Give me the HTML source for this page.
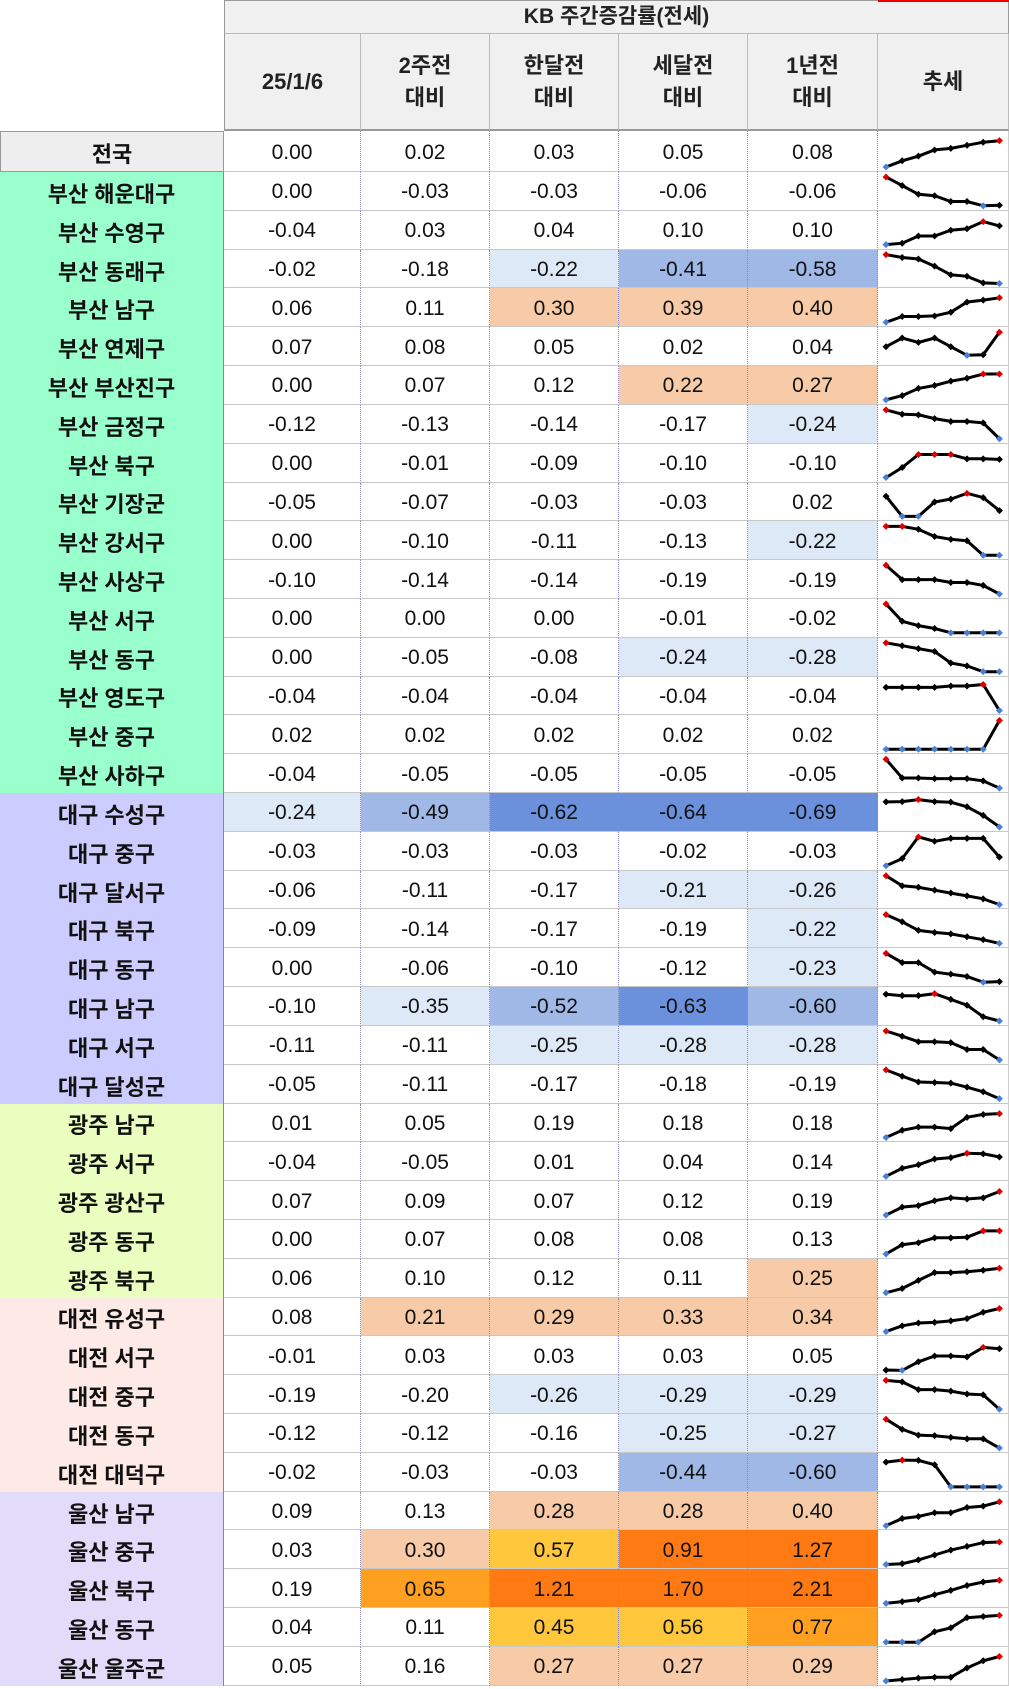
<!DOCTYPE html>
<html><head><meta charset="utf-8"><style>
*{margin:0;padding:0;box-sizing:border-box}
body{width:1009px;height:1689px;background:#fff;font-family:"Liberation Sans","Noto Sans CJK KR",sans-serif;position:relative;overflow:hidden}
.h1{position:absolute;left:224px;top:0;width:785px;height:34px;background:#f0f0f0;border:1px solid #999;border-bottom:1px solid #bbb;text-align:center;font-size:21px;line-height:32px;font-weight:bold;color:#222}
.red{position:absolute;left:878px;top:0;width:131px;height:2px;background:#e00}
.h2{position:absolute;left:224px;top:34px;height:97px;display:flex}
.h2 div{background:#f0f0f0;border-right:1px solid #bbb;border-bottom:2px solid #999;display:flex;align-items:center;justify-content:center;text-align:center;font-size:22px;font-weight:bold;line-height:32px;color:#222}
.h2 div:first-child{border-left:1px solid #999}
#rows{position:absolute;left:0;top:131px;width:1009px}
.r{display:flex;height:38.82px}
.r.t{height:41px}
.r span{display:flex;align-items:center;justify-content:center;padding-top:3px;font-size:21px;color:#111;border-bottom:1px solid #c8c8c8;border-right:1px dotted #8a8ac8;height:100%}
.r span:nth-child(1){width:224px;font-size:22px;font-weight:bold;border-right:1px solid #888;border-bottom:none}
.r span:nth-child(2){width:137px}
.r span:nth-child(3),.r span:nth-child(4),.r span:nth-child(5){width:129px}
.r span:nth-child(6){width:130px}
.r span:nth-child(7){width:131px;border-right:1px solid #ccc}
.t span{background:#fff}
.t span:nth-child(1){background:#eee;border:1px solid #999}
.g span:nth-child(1){background:#99ffcc}
.d span:nth-child(1){background:#ccccff}
.k span:nth-child(1){background:#eaffbf}
.j span:nth-child(1){background:#fde9e5}
.u span:nth-child(1){background:#e2dcfa}
span.a{background:#dde9f6}span.b{background:#9fb8e6}span.c{background:#6b90dc}
span.p{background:#f8cba8}span.y{background:#ffc83c}span.o{background:#ff7a12}span.m{background:#ffa020}
svg{position:absolute;left:878px;top:0}
</style></head><body>
<div class="h1">KB 주간증감률(전세)</div><div class="red"></div>
<div class="h2"><div style="width:137px">25/1/6</div><div style="width:129px">2주전<br>대비</div><div style="width:129px">한달전<br>대비</div><div style="width:129px">세달전<br>대비</div><div style="width:130px">1년전<br>대비</div><div style="width:131px">추세</div></div>
<div id="rows">
<div class="r t"><span>전국</span><span>0.00</span><span>0.02</span><span>0.03</span><span>0.05</span><span>0.08</span><span></span></div>
<div class="r g"><span>부산 해운대구</span><span>0.00</span><span>-0.03</span><span>-0.03</span><span>-0.06</span><span>-0.06</span><span></span></div>
<div class="r g"><span>부산 수영구</span><span>-0.04</span><span>0.03</span><span>0.04</span><span>0.10</span><span>0.10</span><span></span></div>
<div class="r g"><span>부산 동래구</span><span>-0.02</span><span>-0.18</span><span class="a">-0.22</span><span class="b">-0.41</span><span class="b">-0.58</span><span></span></div>
<div class="r g"><span>부산 남구</span><span>0.06</span><span>0.11</span><span class="p">0.30</span><span class="p">0.39</span><span class="p">0.40</span><span></span></div>
<div class="r g"><span>부산 연제구</span><span>0.07</span><span>0.08</span><span>0.05</span><span>0.02</span><span>0.04</span><span></span></div>
<div class="r g"><span>부산 부산진구</span><span>0.00</span><span>0.07</span><span>0.12</span><span class="p">0.22</span><span class="p">0.27</span><span></span></div>
<div class="r g"><span>부산 금정구</span><span>-0.12</span><span>-0.13</span><span>-0.14</span><span>-0.17</span><span class="a">-0.24</span><span></span></div>
<div class="r g"><span>부산 북구</span><span>0.00</span><span>-0.01</span><span>-0.09</span><span>-0.10</span><span>-0.10</span><span></span></div>
<div class="r g"><span>부산 기장군</span><span>-0.05</span><span>-0.07</span><span>-0.03</span><span>-0.03</span><span>0.02</span><span></span></div>
<div class="r g"><span>부산 강서구</span><span>0.00</span><span>-0.10</span><span>-0.11</span><span>-0.13</span><span class="a">-0.22</span><span></span></div>
<div class="r g"><span>부산 사상구</span><span>-0.10</span><span>-0.14</span><span>-0.14</span><span>-0.19</span><span>-0.19</span><span></span></div>
<div class="r g"><span>부산 서구</span><span>0.00</span><span>0.00</span><span>0.00</span><span>-0.01</span><span>-0.02</span><span></span></div>
<div class="r g"><span>부산 동구</span><span>0.00</span><span>-0.05</span><span>-0.08</span><span class="a">-0.24</span><span class="a">-0.28</span><span></span></div>
<div class="r g"><span>부산 영도구</span><span>-0.04</span><span>-0.04</span><span>-0.04</span><span>-0.04</span><span>-0.04</span><span></span></div>
<div class="r g"><span>부산 중구</span><span>0.02</span><span>0.02</span><span>0.02</span><span>0.02</span><span>0.02</span><span></span></div>
<div class="r g"><span>부산 사하구</span><span>-0.04</span><span>-0.05</span><span>-0.05</span><span>-0.05</span><span>-0.05</span><span></span></div>
<div class="r d"><span>대구 수성구</span><span class="a">-0.24</span><span class="b">-0.49</span><span class="c">-0.62</span><span class="c">-0.64</span><span class="c">-0.69</span><span></span></div>
<div class="r d"><span>대구 중구</span><span>-0.03</span><span>-0.03</span><span>-0.03</span><span>-0.02</span><span>-0.03</span><span></span></div>
<div class="r d"><span>대구 달서구</span><span>-0.06</span><span>-0.11</span><span>-0.17</span><span class="a">-0.21</span><span class="a">-0.26</span><span></span></div>
<div class="r d"><span>대구 북구</span><span>-0.09</span><span>-0.14</span><span>-0.17</span><span>-0.19</span><span class="a">-0.22</span><span></span></div>
<div class="r d"><span>대구 동구</span><span>0.00</span><span>-0.06</span><span>-0.10</span><span>-0.12</span><span class="a">-0.23</span><span></span></div>
<div class="r d"><span>대구 남구</span><span>-0.10</span><span class="a">-0.35</span><span class="b">-0.52</span><span class="c">-0.63</span><span class="b">-0.60</span><span></span></div>
<div class="r d"><span>대구 서구</span><span>-0.11</span><span>-0.11</span><span class="a">-0.25</span><span class="a">-0.28</span><span class="a">-0.28</span><span></span></div>
<div class="r d"><span>대구 달성군</span><span>-0.05</span><span>-0.11</span><span>-0.17</span><span>-0.18</span><span>-0.19</span><span></span></div>
<div class="r k"><span>광주 남구</span><span>0.01</span><span>0.05</span><span>0.19</span><span>0.18</span><span>0.18</span><span></span></div>
<div class="r k"><span>광주 서구</span><span>-0.04</span><span>-0.05</span><span>0.01</span><span>0.04</span><span>0.14</span><span></span></div>
<div class="r k"><span>광주 광산구</span><span>0.07</span><span>0.09</span><span>0.07</span><span>0.12</span><span>0.19</span><span></span></div>
<div class="r k"><span>광주 동구</span><span>0.00</span><span>0.07</span><span>0.08</span><span>0.08</span><span>0.13</span><span></span></div>
<div class="r k"><span>광주 북구</span><span>0.06</span><span>0.10</span><span>0.12</span><span>0.11</span><span class="p">0.25</span><span></span></div>
<div class="r j"><span>대전 유성구</span><span>0.08</span><span class="p">0.21</span><span class="p">0.29</span><span class="p">0.33</span><span class="p">0.34</span><span></span></div>
<div class="r j"><span>대전 서구</span><span>-0.01</span><span>0.03</span><span>0.03</span><span>0.03</span><span>0.05</span><span></span></div>
<div class="r j"><span>대전 중구</span><span>-0.19</span><span>-0.20</span><span class="a">-0.26</span><span class="a">-0.29</span><span class="a">-0.29</span><span></span></div>
<div class="r j"><span>대전 동구</span><span>-0.12</span><span>-0.12</span><span>-0.16</span><span class="a">-0.25</span><span class="a">-0.27</span><span></span></div>
<div class="r j"><span>대전 대덕구</span><span>-0.02</span><span>-0.03</span><span>-0.03</span><span class="b">-0.44</span><span class="b">-0.60</span><span></span></div>
<div class="r u"><span>울산 남구</span><span>0.09</span><span>0.13</span><span class="p">0.28</span><span class="p">0.28</span><span class="p">0.40</span><span></span></div>
<div class="r u"><span>울산 중구</span><span>0.03</span><span class="p">0.30</span><span class="y">0.57</span><span class="o">0.91</span><span class="o">1.27</span><span></span></div>
<div class="r u"><span>울산 북구</span><span>0.19</span><span class="m">0.65</span><span class="o">1.21</span><span class="o">1.70</span><span class="o">2.21</span><span></span></div>
<div class="r u"><span>울산 동구</span><span>0.04</span><span>0.11</span><span class="y">0.45</span><span class="y">0.56</span><span class="m">0.77</span><span></span></div>
<div class="r u"><span>울산 울주군</span><span>0.05</span><span>0.16</span><span class="p">0.27</span><span class="p">0.27</span><span class="p">0.29</span><span></span></div>
</div>
<svg id="sp" width="131" height="1689"></svg>
<script>
var D=[
[0,2,3.5,5.5,6,7,8,8.5],[10,7,4,3.5,1.5,1.5,0,0.2],[0,0.5,3,3,5,5.5,8,6.5],[10,9,8.5,6,3,2.5,0.2,0],
[0,2,2,2.2,3.5,7,7.7,8.5],[5,8,6.5,8,5,2,2.2,10],[0,1.5,4,5,6.5,7.5,9,9],[10,8.5,8.3,7,6,6,5.5,0],
[0,3.5,8,8,8,6.5,6.5,6.3],[7,0,0,5,6,8,6.5,2],[10,10,9,6.5,5.5,5,0,0],[10,5,5,5,4,4,3,0],
[10,4,2.5,1.5,0,0,0,0],[10,9,8,7,3,2,0,0],[8,8,8,8,8.5,8.5,9,0],[0,0,0,0,0,0,0,10],
[10,3.5,3.5,3.3,3.3,3.3,2.5,0],[8.7,8.8,9.5,8.8,8.6,7,4,0],[0,2.5,10,8.5,9.5,9.5,9.5,3],[10,6.5,6,5,4,3,2,0],
[10,7.5,4.5,3.8,3.3,2.3,1.3,0],[10,6.8,6.8,3.5,2.8,2,0,0.2],[9.3,8.8,8.8,9.5,7.5,5.5,1.5,0],[10,8.2,6.3,6.3,6,3.6,3.6,0],
[10,7.8,5.8,5.6,5.4,4,2.4,0],[0,2.5,3.6,3.6,3.1,7,8,8.3],[0,2.8,4,6,6.5,8,7.8,6.7],[0,2.8,3.3,5,6,5.6,6,8.2],
[0,3.2,3.9,5.6,5.6,5.8,8,8],[0,1.5,4.3,7,7,7.3,7.8,8.5],[0,2,3,3.2,3.7,4.5,6.7,8],[0.1,0,3,5,5,4.7,8,7.5],
[10,9.5,6.8,6.8,6.3,5.3,5,0],[10,6.5,4.5,4.3,3.7,3.2,3.2,0],[8.6,9.3,9.2,7.7,0,0,0,0],[0,2.5,3.2,4.5,4.5,6.3,6.8,8.3],
[0,0.3,1.6,3.3,5,6.3,7.6,7.8],[0,0.6,1.3,3,4.5,6.2,7.4,8],[0,0,0,3.6,5,8.5,8.9,9.3],[0,0.5,1,1.3,1.3,4.5,7,8.5]];
var s='';
D.forEach(function(v,i){var top=i==0?131:172+(i-1)*38.82,h=i==0?41:38.82;
var y0=top+5,y1=top+h-5;var mx=Math.max.apply(0,v),mn=Math.min.apply(0,v);
var pts=v.map(function(a,j){return[8+j*16.2,y1-(a/10)*(y1-y0)]});
s+='<polyline fill="none" stroke="#000" stroke-width="3" points="'+pts.map(function(p){return p[0].toFixed(1)+','+p[1].toFixed(1)}).join(' ')+'"/>';
pts.forEach(function(p,j){var c=v[j]==mx?'#d00':v[j]==mn?'#4a7fd6':'#000';var x=p[0],y=p[1];s+='<polygon points="'+x+','+(y-3.5)+' '+(x+3.5)+','+y+' '+x+','+(y+3.5)+' '+(x-3.5)+','+y+'" fill="'+c+'"/>';});});
document.getElementById('sp').innerHTML=s;
</script>
</body></html>
